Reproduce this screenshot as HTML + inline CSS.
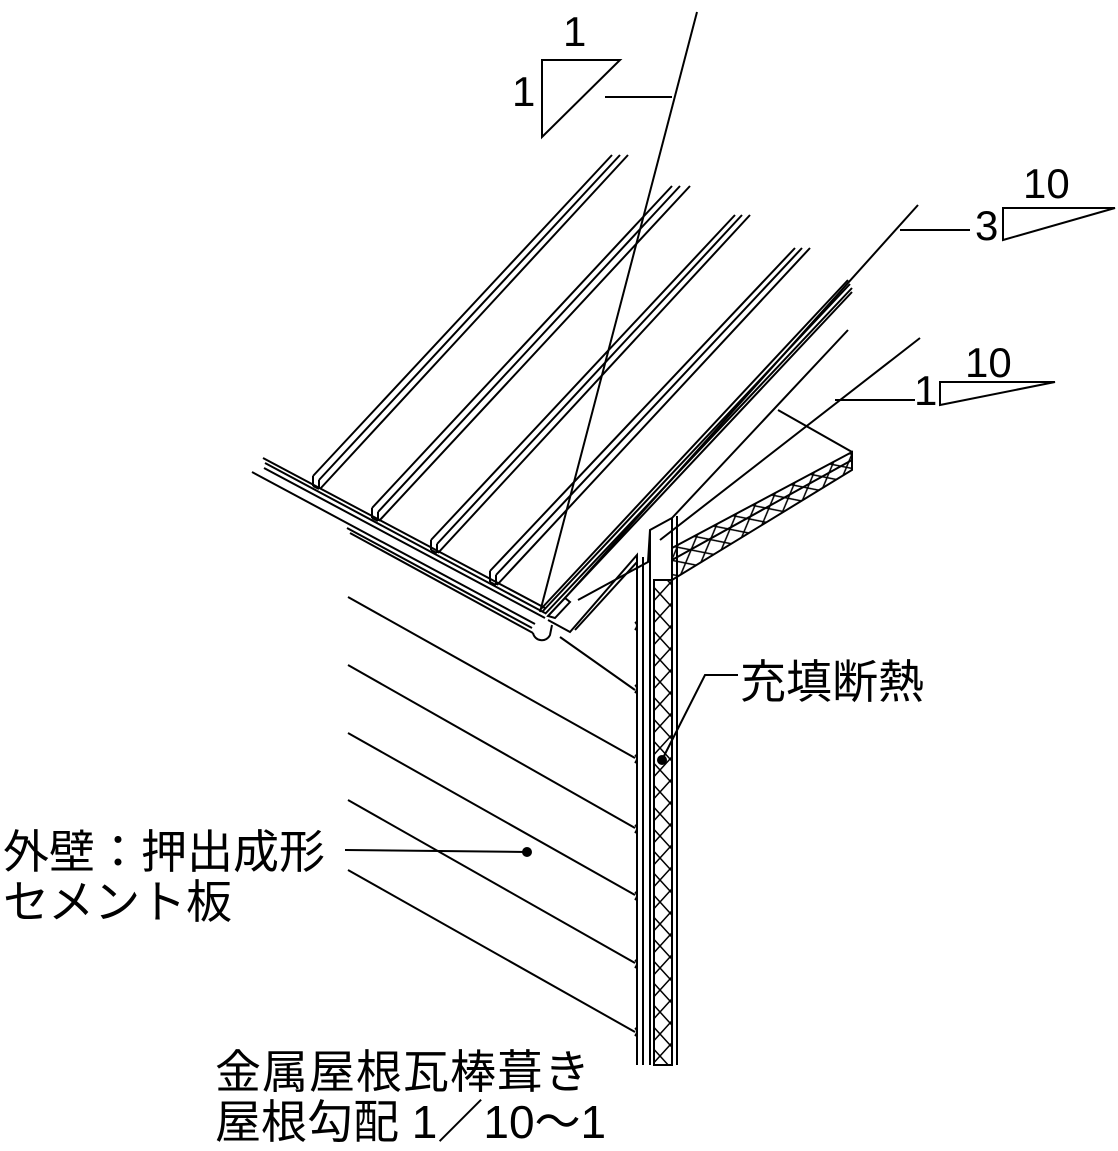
<!DOCTYPE html>
<html><head><meta charset="utf-8"><style>
html,body{margin:0;padding:0;background:#fff;}
svg{display:block;}
text{font-family:"Liberation Sans","Noto Sans CJK JP",sans-serif;fill:#000;}
</style></head><body>
<svg width="1118" height="1151" viewBox="0 0 1118 1151" xmlns="http://www.w3.org/2000/svg">
<defs>
<pattern id="hx" width="20" height="22" patternUnits="userSpaceOnUse">
<path d="M0,0 L20,22 M20,0 L0,22" stroke="#000" stroke-width="1.5" fill="none"/>
</pattern>
<pattern id="hx2" width="22" height="18" patternUnits="userSpaceOnUse" patternTransform="rotate(-28)">
<path d="M0,0 L22,18 M22,0 L0,18" stroke="#000" stroke-width="1.5" fill="none"/>
</pattern>
</defs>
<g stroke="#000" fill="none" stroke-width="2">
<path d="M542,60 L620,60 L542,137 Z"/>
<path d="M1003,208 L1115,208 L1003,240 Z"/>
<path d="M940,382 L1055,382 L940,405 Z"/>
<path d="M263,458 L545,608"/>
<path d="M265,463 L545,613"/>
<path d="M264,468 L545,618"/>
<path d="M252,472 L535,624"/>
<path d="M347,528 L532,628"/>
<path d="M350,533 L533,633"/>
<path d="M533,633 A9,9 0 0 0 550,635 L552,625"/>
<path d="M313,476 L313,486 M313,476 L612,155 M319,480 L319,489 M319,480 L620,155 M320,489 L628,155 M313,486 L319,489"/>
<path d="M372,508 L372,518 M372,508 L672,186 M378,512 L378,521 M378,512 L680,186 M379,521 L690,186 M372,518 L378,521"/>
<path d="M431,540 L431,550 M431,540 L735,215 M437,544 L437,553 M437,544 L742,215 M438,553 L750,215 M431,550 L437,553"/>
<path d="M490,571 L490,582 M490,571 L795,248 M496,575 L496,585 M496,575 L802,248 M497,585 L810,248 M490,582 L496,585"/>
<path d="M540,610 L848,280 M542,612 L850,284 M545,614 L852,288 M548,616 L852,292"/>
<path d="M565,598 L918,205"/>
<path d="M548,616 L565,598 L570,602 L555,618 Z"/>
<path d="M548,620 L570,632 L637,555 L637,562 L575,630"/>
<path d="M578,600 L648,562 L650,530 L672,518 L848,330"/>
<path d="M650,530 L650,580 M672,518 L672,580 M677,516 L677,1065"/>
<path d="M660,540 L920,338"/>
<path d="M835,400 L915,400"/>
<path d="M900,230 L970,230"/>
<path d="M778,410 L852,452 L852,470"/>
<path d="M672,548 L852,452 L852,470 L672,580 Z" fill="url(#hx2)"/>
<path d="M672,560 L852,460"/>
<path d="M637,562 L637,1065 M643,557 L643,1065 M650,580 L650,1065 M654,580 L654,1065"/>
<rect x="654" y="580" width="18" height="485" fill="url(#hx)"/>
<path d="M672,580 L672,1065"/>
<path d="M560,637 L635,690"/>
<path d="M348,597 L635,758"/>
<path d="M348,665 L635,828"/>
<path d="M348,733 L635,895"/>
<path d="M348,800 L635,963"/>
<path d="M348,870 L635,1032"/>
<path d="M635,622 q4,3 0,8 M635,685 q4,3 0,8 M635,755 q4,3 0,8 M635,825 q4,3 0,8 M635,892 q4,3 0,8 M635,960 q4,3 0,8 M635,1028 q4,3 0,8"/>
<path d="M697,12 L540,612"/>
<path d="M605,97 L672,97"/>
<path d="M662,760 L705,675 L738,675"/>
<path d="M345,850 L527,852"/>
</g>
<circle cx="662" cy="760" r="5" fill="#000"/>
<circle cx="527" cy="852" r="5" fill="#000"/>
<g font-size="42">
<text x="563" y="46">1</text>
<text x="512" y="106">1</text>
<text x="1023" y="198">10</text>
<text x="975" y="240">3</text>
<text x="965" y="377">10</text>
<text x="914" y="405">1</text>
</g>
<g font-size="46">
<text x="740" y="698">充填断熱</text>
<text x="3" y="868">外壁：押出成形</text>
<text x="3" y="918">セメント板</text>
<text x="215" y="1088" letter-spacing="1">金属屋根瓦棒葺き</text>
<text x="215" y="1138" letter-spacing="0">屋根勾配 1／10～1</text>
</g>
</svg>
</body></html>
